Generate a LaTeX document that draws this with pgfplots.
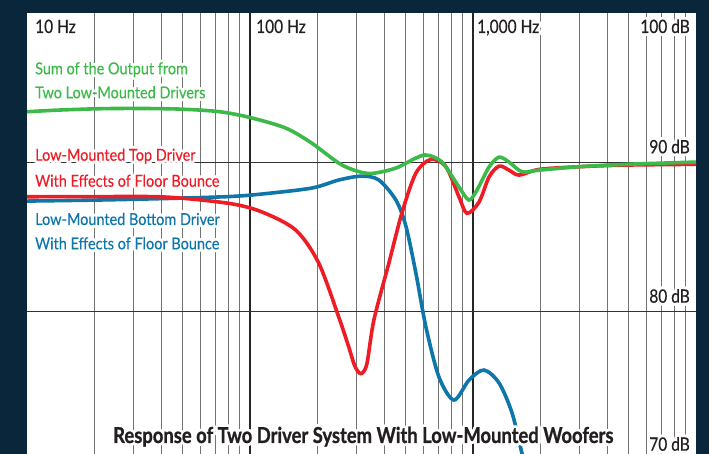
\documentclass[border=0pt]{standalone}
\usepackage{pgfplots}
\pgfplotsset{compat=1.18}
\usepackage{fontspec}
\setmainfont{Lato}[FakeStretch=0.84,FakeBold=0.4]
\newfontfamily\labelfont{Lato}[FakeStretch=0.88,FakeBold=0.25]
\newfontfamily\titlefont{Lato}[FakeStretch=0.84,FakeBold=0.8]
\definecolor{navy}{HTML}{0A263A}
\definecolor{cgreen}{HTML}{3DB94A}
\definecolor{cred}{HTML}{EE1C25}
\definecolor{cblue}{HTML}{0E76A8}
\definecolor{ctext}{HTML}{231F20}
\newcommand\halo[4]{%
  \foreach \a in {0,22.5,...,337.5}{\node[anchor=#2,inner sep=0pt,text=white] at ([shift={(\a:2.8bp)}]#1) {#4};}
  \node[anchor=#2,inner sep=0pt,text=#3] at (#1) {#4};}
\newcommand\tk{\fontsize{18.5}{20}\selectfont}
\newcommand\lb{\labelfont\fontsize{16.5}{18}\selectfont}
\begin{document}
\begin{tikzpicture}[x=1bp,y=1bp]
\fill[navy] (0,0) rectangle (709,454);
\fill[white] (27,0) rectangle (696,441);
\begin{axis}[at={(27bp,0bp)}, anchor=south west, scale only axis,
  width=669bp, height=441bp, xmode=log, xmin=10, xmax=10000,
  ymin=70.48, ymax=100, hide axis, clip=true]
\pgfplotsinvokeforeach{20,30,40,50,60,70,80,90,200,300,400,500,600,700,800,900,2000,3000,4000,5000,6000,7000,8000,9000}{
  \draw[black!55, line width=1.2bp] (axis cs:#1,70.48) -- (axis cs:#1,100);}
\pgfplotsinvokeforeach{100,1000}{
  \draw[black!85, line width=2.2bp] (axis cs:#1,70.48) -- (axis cs:#1,100);}
\pgfplotsinvokeforeach{80,90}{
  \draw[black!80, line width=1.1bp] (axis cs:10,#1) -- (axis cs:10000,#1);}
% bottom driver
\addplot[cblue, line width=3.6bp, smooth] coordinates {
(10,87.41) (20.89,87.48) (41.77,87.58) (80.15,87.71) (112.7,87.88) (189.1,88.28)
(250.0,88.82) (317.2,89.08) (378.2,88.82) (451.0,87.48) (500.0,85.74) (554.5,82.59)
(615.0,78.98) (703.8,75.63) (821.5,74.09) (959.4,75.43) (1120,76.10) (1309,75.23)
(1497,73.22) (1661,70.48) (1748,69.4)};
% top driver
\addplot[cred, line width=3.6bp, smooth] coordinates {
(10,87.70) (20.89,87.71) (41.77,87.68) (80.15,87.26) (112.7,86.69) (160.3,85.47)
(203.3,83.26) (250.0,79.65) (277.3,77.64) (295.1,76.37) (314.0,75.86) (334.1,76.50)
(359.3,79.44) (419.5,83.26) (479.8,86.61) (554.5,89.28) (647.6,90.20) (756.2,89.71)
(865.0,87.70) (939.8,86.59) (1064,87.34) (1180,89.02) (1309,89.75) (1451,89.48)
(1609,89.15) (1980,89.53) (2994,89.71) (4867,89.82) (10000,89.87)};
% sum
\addplot[cgreen, line width=3.6bp, smooth] coordinates {
(10,93.39) (13.81,93.50) (20.89,93.59) (30.0,93.61) (47.77,93.57) (72.26,93.40)
(99.6,93.01) (144.5,92.30) (189.1,91.29) (250.0,89.95) (298.1,89.44) (351.9,89.26)
(451.0,89.62) (554.5,90.29) (621.4,90.49) (725.9,90.02) (865.0,88.35) (959.4,87.48)
(1042,88.15) (1180,89.69) (1309,90.35) (1451,90.02) (1661,89.37) (1980,89.48)
(2994,89.71) (4867,89.87) (10000,90.02)};
\end{axis}
% axis labels
\halo{35,421}{base west}{ctext}{\tk 10 Hz}
\halo{256,421}{base west}{ctext}{\tk 100 Hz}
\halo{477,421}{base west}{ctext}{\tk 1,000 Hz}
\halo{690,421}{base east}{ctext}{\tk 100 dB}
\halo{690,300.7}{base east}{ctext}{\tk 90 dB}
\halo{690,151.3}{base east}{ctext}{\tk 80 dB}
\halo{690,3.3}{base east}{ctext}{\tk 70 dB}
% series labels
\halo{35,379.7}{base west}{cgreen}{\lb Sum of the Output from}
\halo{35,355.7}{base west}{cgreen}{\lb Two Low-Mounted Drivers}
\halo{35,293.3}{base west}{cred}{\lb Low-Mounted Top Driver}
\halo{35,267.3}{base west}{cred}{\lb With Effects of Floor Bounce}
\halo{35,229}{base west}{cblue}{\lb Low-Mounted Bottom Driver}
\halo{35,204.7}{base west}{cblue}{\lb With Effects of Floor Bounce}
% title
\halo{113,11}{base west}{ctext}{\titlefont\fontsize{22}{24}\selectfont\bfseries Response of Two Driver System With Low-Mounted Woofers}
\pgfresetboundingbox
\useasboundingbox (0,0) rectangle (709,454);
\end{tikzpicture}
\end{document}
